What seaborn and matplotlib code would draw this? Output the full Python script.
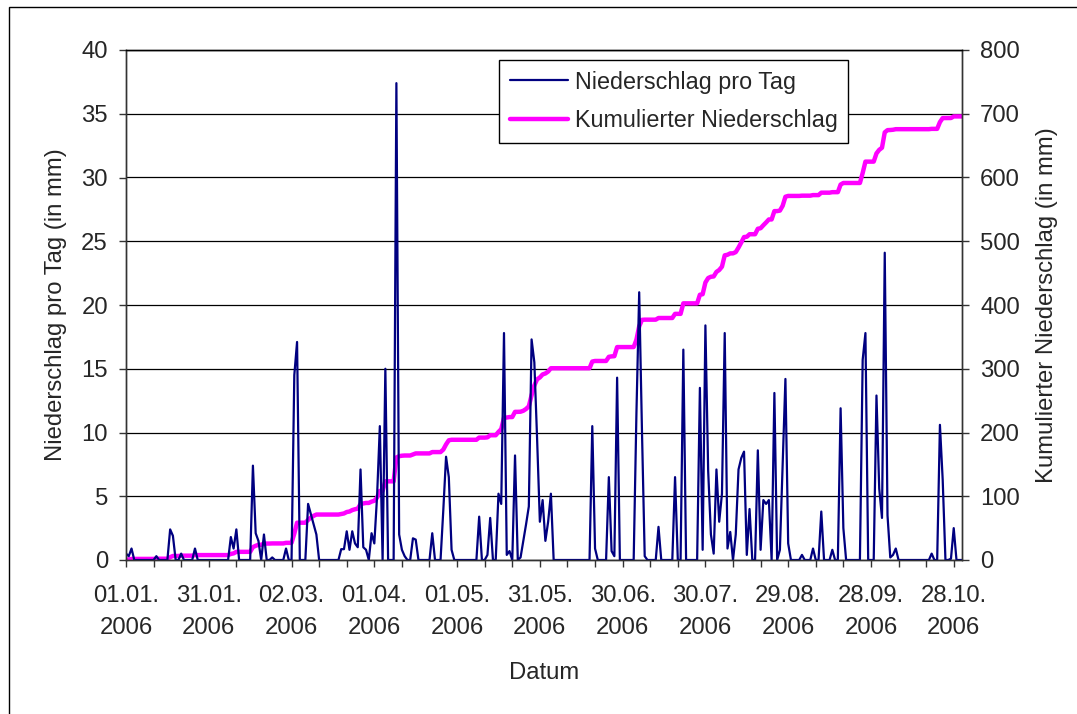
import matplotlib
matplotlib.use('Agg')
import matplotlib.pyplot as plt
import matplotlib.dates as mdates
from matplotlib.patches import Rectangle
import numpy as np
import pandas as pd
import seaborn as sns

# daily precipitation (mm), one list per month
jan = [0.5, 0.3, 0.9, 0, 0, 0, 0, 0, 0, 0,
       0, 0.3, 0, 0, 0, 0, 2.4, 1.9, 0, 0,
       0.5, 0, 0, 0, 0, 0.9, 0, 0, 0, 0,
       0]
feb = [0, 0, 0, 0, 0, 0, 0, 1.8, 0.9, 2.4,
       0, 0, 0, 0, 0, 7.4, 2.1, 1.5, 0, 2.0,
       0, 0, 0.2, 0, 0, 0, 0, 0.9]
mar = [0, 0, 14.5, 17.1, 0, 0, 0, 4.4, 3.6, 2.8,
       2.0, 0, 0, 0, 0, 0, 0, 0, 0, 0.85,
       0.85, 2.25, 0.8, 2.25, 1.3, 1.0, 7.1, 1.0, 0.8, 0,
       2.1]
apr = [1.3, 5.0, 10.5, 0, 15.0, 0, 0, 0, 37.4, 2.0,
       0.8, 0.3, 0, 0, 1.7, 1.6, 0, 0, 0, 0,
       0, 2.1, 0, 0, 0, 3.9, 8.1, 6.5, 0.8, 0]
may = [0, 0, 0, 0, 0, 0, 0, 0, 3.4, 0,
       0, 0.4, 3.3, 0, 0, 5.2, 4.4, 17.8, 0.4, 0.7,
       0, 8.2, 0, 0.2, 1.5, 2.8, 4.2, 17.3, 15.5, 9.5,
       3.0]
jun = [4.7, 1.5, 3.0, 5.2, 0, 0, 0, 0, 0, 0,
       0, 0, 0, 0, 0, 0, 0, 0, 10.5, 0.9,
       0, 0, 0, 0, 6.5, 0.7, 0.3, 14.3, 0, 0]
jul = [0, 0, 0, 0, 11.5, 21.0, 10.2, 0.3, 0, 0,
       0, 0, 2.6, 0, 0, 0, 0, 0, 6.5, 0,
       0, 16.5, 0, 0, 0, 0, 0, 13.5, 0.8, 18.4,
       7.0]
aug = [2.0, 0.5, 7.1, 3.0, 5.2, 17.8, 0.9, 2.2, 0, 2.0,
       7.1, 8.0, 8.5, 0.4, 4.0, 0, 0, 8.6, 0.8, 4.7,
       4.4, 4.7, 0, 13.1, 0, 0.8, 7.5, 14.2, 1.3, 0,
       0]
sep = [0, 0, 0.4, 0, 0, 0, 0.9, 0, 0, 3.8,
       0, 0, 0, 0.8, 0, 0, 11.9, 2.5, 0, 0,
       0, 0, 0, 0, 15.7, 17.8, 0, 0, 0, 12.9]
okt = [5.6, 3.3, 24.1, 3.5, 0.2, 0.4, 0.9, 0, 0, 0,
       0, 0, 0, 0, 0, 0, 0, 0, 0, 0.5,
       0, 0, 10.6, 6.3, 0, 0, 0.1, 2.5, 0, 0,
       0]

daily = np.array(jan + feb + mar + apr + may + jun + jul + aug + sep + okt)
dates = pd.date_range('2006-01-01', periods=len(daily), freq='D')
df = pd.DataFrame({'datum': dates, 'tag': daily, 'kum': np.cumsum(daily)})

sns.set_style('white')
plt.rcParams['font.family'] = ['Liberation Sans', 'DejaVu Sans']
fs = 17.2

fig = plt.figure(figsize=(10.77, 7.14), dpi=100)
ax = fig.add_axes([126/1077, 1 - 560/714, 836/1077, 510/714])
ax2 = ax.twinx()

# cumulative line on the twin axis, drawn below the daily line
ax2.yaxis.grid(True, color='black', lw=0.9)
ax2.set_axisbelow(True)
sns.lineplot(data=df, x='datum', y='kum', ax=ax2, color='#FF00FF', lw=3.2,
             estimator=None, legend=False)
sns.lineplot(data=df, x='datum', y='tag', ax=ax, color='#000080', lw=1.6,
             estimator=None, legend=False)
ax.set_zorder(ax2.get_zorder() + 1)
ax.patch.set_visible(False)

ax.set_ylim(0, 40)
ax2.set_ylim(0, 800)
ax.set_yticks(range(0, 41, 5))
ax2.set_yticks(range(0, 801, 100))
ax.set_xlim(dates[0], dates[-1])
ax.xaxis.set_major_locator(plt.FixedLocator(mdates.date2num(dates[::30])))
ax.xaxis.set_minor_locator(plt.FixedLocator(mdates.date2num(dates[::10])))
ax.xaxis.set_major_formatter(mdates.DateFormatter('%d.%m.\n%Y'))
for lab in ax.get_xticklabels():
    lab.set_linespacing(1.6)

ax.set_xlabel('')
ax.set_ylabel('')
ax2.set_ylabel('')
ax.grid(False)

for a in (ax, ax2):
    for s in a.spines.values():
        s.set_color('#333333')
        s.set_linewidth(1.0)
    a.tick_params(labelsize=fs, direction='out', length=5, width=1,
                  color='#333333', pad=8)
ax.tick_params(axis='x', which='both', direction='out', length=5, width=1,
               color='#333333', bottom=True, pad=13)
ax.tick_params(axis='y', left=True)
ax2.tick_params(axis='y', right=True)
ax.spines['top'].set_color('black')

# axis titles
fig.text(56/1077, 1 - 305/714, 'Niederschlag pro Tag (in mm)', rotation=90,
         ha='center', va='center', fontsize=fs)
fig.text(1047/1077, 1 - 305/714, 'Kumulierter Niederschlag (in mm)', rotation=90,
         ha='center', va='center', fontsize=fs)
fig.text(544/1077, 1 - 673/714, 'Datum', ha='center', va='center', fontsize=fs)

handles = [ax.lines[0], ax2.lines[0]]
labels = ['Niederschlag pro Tag', 'Kumulierter Niederschlag']
leg = ax.legend(handles, labels, loc='upper left',
                bbox_to_anchor=(499/1077, 1 - 60/714), bbox_transform=fig.transFigure,
                borderaxespad=0, fontsize=16.8, frameon=True, fancybox=False,
                framealpha=1, edgecolor='black', handlelength=2.5,
                handletextpad=0.3, labelspacing=0.68, borderpad=0.45)
leg.get_frame().set_linewidth(1.0)

# chart area frame (only top and left edges are inside the picture)
fig.add_artist(Rectangle((9/1077, -0.5), 2, 1.5 - 7/714, transform=fig.transFigure,
                         fill=False, edgecolor='black', lw=1.0))

fig.savefig('out.png', dpi=100)
